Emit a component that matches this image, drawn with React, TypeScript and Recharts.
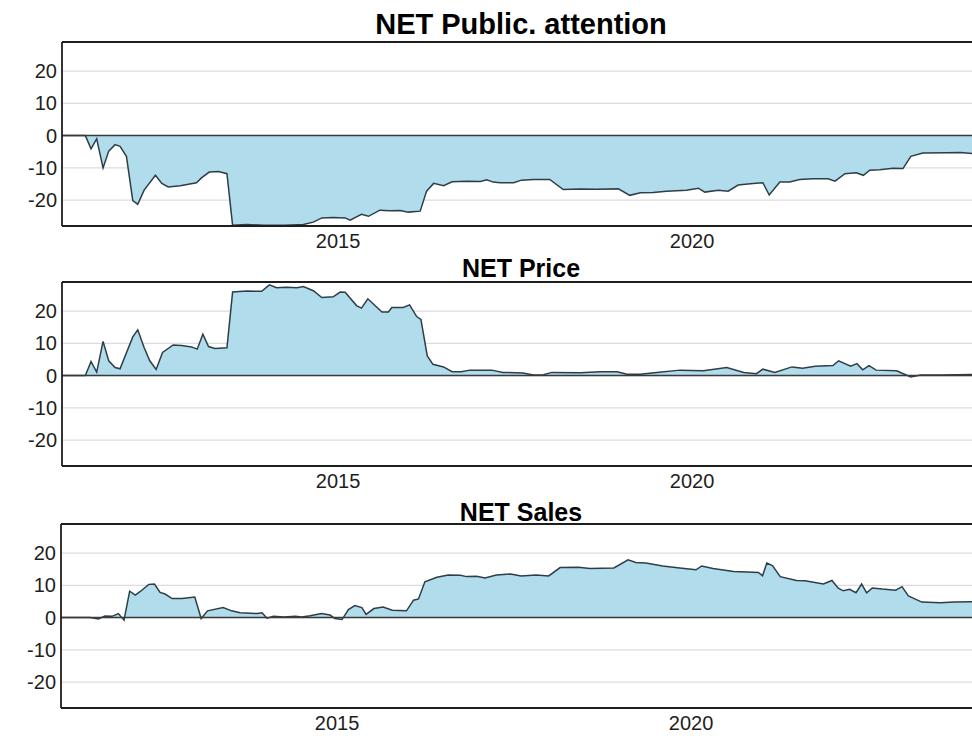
import { Area, AreaChart, CartesianGrid, ReferenceLine, XAxis, YAxis } from "recharts";

const yearTicks = [2015, 2020];
const valueTicks = [-20, -10, 0, 10, 20];

// [decimal year, value]
const attention: [number, number][] = [
  [2011.1, 0], [2011.43, 0], [2011.51, -4.1], [2011.59, -1.0], [2011.68, -10.0], [2011.76, -4.8],
  [2011.85, -2.8], [2011.92, -3.3], [2012.01, -6.4], [2012.1, -20.1], [2012.17, -21.3], [2012.26, -16.9],
  [2012.42, -12.3], [2012.51, -14.8], [2012.6, -15.9], [2012.77, -15.5], [2013.0, -14.6], [2013.07, -13.1],
  [2013.18, -11.3], [2013.31, -11.1], [2013.43, -11.8], [2013.51, -27.8], [2013.71, -27.5], [2013.95, -27.8],
  [2014.25, -27.8], [2014.51, -27.5], [2014.65, -26.8], [2014.77, -25.5], [2014.93, -25.4], [2015.1, -25.5],
  [2015.17, -26.2], [2015.33, -24.4], [2015.43, -25.0], [2015.59, -23.1], [2015.73, -23.3], [2015.88, -23.2],
  [2015.99, -23.7], [2016.16, -23.4], [2016.25, -17.2], [2016.35, -14.8], [2016.49, -15.5], [2016.61, -14.3],
  [2016.82, -14.1], [2017.01, -14.2], [2017.1, -13.7], [2017.19, -14.4], [2017.29, -14.6], [2017.48, -14.6],
  [2017.59, -13.8], [2017.76, -13.6], [2017.99, -13.6], [2018.18, -16.7], [2018.42, -16.5], [2018.65, -16.6],
  [2018.96, -16.5], [2019.12, -18.5], [2019.27, -17.7], [2019.45, -17.6], [2019.64, -17.2], [2019.92, -16.9],
  [2020.09, -16.3], [2020.18, -17.5], [2020.37, -16.9], [2020.51, -17.2], [2020.65, -15.3], [2020.86, -14.8],
  [2021.0, -14.6], [2021.09, -18.4], [2021.24, -14.4], [2021.38, -14.4], [2021.52, -13.6], [2021.71, -13.4],
  [2021.92, -13.4], [2022.02, -14.1], [2022.16, -11.8], [2022.32, -11.5], [2022.42, -12.3], [2022.51, -10.7],
  [2022.65, -10.6], [2022.84, -10.1], [2022.98, -10.2], [2023.09, -6.4], [2023.26, -5.4], [2023.6, -5.3],
  [2023.79, -5.2], [2024.0, -5.6],
];

const price: [number, number][] = [
  [2011.1, 0], [2011.43, 0], [2011.51, 4.4], [2011.59, 1.1], [2011.68, 10.6], [2011.76, 4.6],
  [2011.85, 2.5], [2011.92, 2.1], [2012.1, 12.0], [2012.17, 14.2], [2012.26, 8.7], [2012.34, 4.6],
  [2012.43, 1.9], [2012.52, 7.2], [2012.67, 9.5], [2012.79, 9.3], [2012.93, 8.9], [2013.01, 8.2],
  [2013.09, 12.8], [2013.17, 9.0], [2013.26, 8.4], [2013.43, 8.6], [2013.51, 25.9], [2013.71, 26.2],
  [2013.92, 26.1], [2014.03, 28.1], [2014.13, 27.2], [2014.27, 27.4], [2014.42, 27.2], [2014.51, 27.6],
  [2014.65, 26.3], [2014.77, 24.2], [2014.93, 24.4], [2015.03, 25.9], [2015.1, 25.8], [2015.26, 21.7],
  [2015.33, 20.9], [2015.42, 23.8], [2015.62, 19.7], [2015.71, 19.7], [2015.76, 21.1], [2015.92, 21.1],
  [2016.01, 21.9], [2016.11, 18.3], [2016.17, 17.4], [2016.26, 6.1], [2016.34, 3.5], [2016.49, 2.7],
  [2016.61, 1.2], [2016.74, 1.2], [2016.86, 1.7], [2017.17, 1.7], [2017.33, 1.0], [2017.61, 0.8],
  [2017.76, 0.2], [2017.9, 0.3], [2018.02, 1.0], [2018.42, 0.9], [2018.7, 1.2], [2018.94, 1.2],
  [2019.08, 0.4], [2019.27, 0.4], [2019.5, 1.0], [2019.83, 1.7], [2020.16, 1.5], [2020.49, 2.5],
  [2020.73, 1.0], [2020.91, 0.6], [2021.0, 2.0], [2021.17, 1.0], [2021.41, 2.7], [2021.56, 2.3],
  [2021.74, 2.9], [2021.99, 3.1], [2022.07, 4.6], [2022.24, 2.9], [2022.33, 3.7], [2022.41, 1.8],
  [2022.5, 3.1], [2022.6, 1.7], [2022.89, 1.5], [2022.96, 0.8], [2023.09, -0.4], [2023.23, 0.2],
  [2023.52, 0.2], [2024.0, 0.4],
];

const sales: [number, number][] = [
  [2011.1, 0], [2011.51, 0], [2011.63, -0.4], [2011.72, 0.5], [2011.82, 0.4], [2011.91, 1.25],
  [2011.99, -0.8], [2012.07, 8.2], [2012.15, 7.0], [2012.22, 8.1], [2012.34, 10.3], [2012.42, 10.4],
  [2012.5, 7.8], [2012.57, 7.3], [2012.67, 5.9], [2012.81, 5.9], [2012.99, 6.4], [2013.08, -0.3],
  [2013.17, 2.1], [2013.39, 3.1], [2013.51, 2.1], [2013.63, 1.5], [2013.87, 1.25], [2013.94, 1.5],
  [2014.01, -0.2], [2014.1, 0.4], [2014.25, 0.2], [2014.41, 0.4], [2014.5, 0.2], [2014.62, 0.6],
  [2014.78, 1.25], [2014.9, 0.8], [2014.97, -0.3], [2015.07, -0.6], [2015.16, 2.5], [2015.25, 3.75],
  [2015.35, 3.1], [2015.41, 1.0], [2015.52, 2.8], [2015.65, 3.3], [2015.78, 2.3], [2015.98, 2.1],
  [2016.08, 5.4], [2016.15, 5.8], [2016.24, 11.1], [2016.41, 12.5], [2016.57, 13.2], [2016.74, 13.1],
  [2016.83, 12.7], [2016.97, 12.8], [2017.09, 12.3], [2017.25, 13.2], [2017.45, 13.5], [2017.6, 12.9],
  [2017.81, 13.2], [2017.99, 12.9], [2018.15, 15.5], [2018.41, 15.6], [2018.57, 15.2], [2018.91, 15.4],
  [2019.11, 17.9], [2019.22, 17.1], [2019.36, 16.9], [2019.6, 16.0], [2019.84, 15.4], [2020.07, 14.8],
  [2020.15, 16.0], [2020.31, 15.2], [2020.6, 14.3], [2020.79, 14.1], [2020.95, 14.0], [2021.01, 13.0],
  [2021.07, 16.9], [2021.15, 16.1], [2021.26, 12.7], [2021.49, 11.5], [2021.61, 11.4], [2021.87, 10.4],
  [2021.99, 11.5], [2022.08, 9.1], [2022.15, 8.3], [2022.24, 8.75], [2022.33, 7.7], [2022.41, 10.4],
  [2022.48, 7.7], [2022.56, 9.2], [2022.7, 8.85], [2022.89, 8.5], [2022.98, 9.6], [2023.07, 6.7],
  [2023.26, 4.8], [2023.52, 4.6], [2023.71, 4.8], [2024.0, 4.9],
];

const FONT = "'Liberation Sans', Arial, sans-serif";
const INK = "#1e1e1e";

function Panel(props: {
  title: string;
  points: [number, number][];
  top: number;
  left: number;
  titleSize: number;
  titleTop: number;
}) {
  const { title, points, top, left, titleSize, titleTop } = props;
  const data = points.map(([year, value]) => ({ year, value }));
  return (
    <>
      <div
        style={{
          position: "absolute",
          left: 0,
          width: 1042,
          top: titleTop,
          textAlign: "center",
          fontFamily: FONT,
          fontWeight: "bold",
          fontSize: titleSize,
          lineHeight: 1,
          color: "#000",
        }}
      >
        {title}
      </div>
      <div style={{ position: "absolute", top, left }}>
        <AreaChart width={1000} height={234} data={data} margin={{ top: 10, right: 0, bottom: 0, left: 7 }}>
          <CartesianGrid vertical={false} stroke="#dcdcdc" strokeWidth={1.2} />
          <XAxis
            dataKey="year"
            type="number"
            domain={[2011.1, 2024.35]}
            ticks={yearTicks}
            allowDataOverflow
            height={40}
            tickLine={false}
            tickSize={0}
            tickMargin={8}
            axisLine={{ stroke: INK, strokeWidth: 1.8 }}
            tick={{ fill: INK, fontSize: 20, fontFamily: FONT }}
          />
          <YAxis
            type="number"
            domain={[-28, 29]}
            ticks={valueTicks}
            allowDataOverflow
            width={55}
            tickLine={false}
            tickSize={0}
            tickMargin={5}
            axisLine={{ stroke: INK, strokeWidth: 1.8 }}
            tick={{ fill: INK, fontSize: 20, fontFamily: FONT }}
          />
          <Area
            type="linear"
            dataKey="value"
            baseValue={0}
            stroke="#2e3e48"
            strokeWidth={1.5}
            fill="#b0dcec"
            fillOpacity={1}
            dot={false}
            activeDot={false}
            isAnimationActive={false}
          />
          <ReferenceLine y={0} stroke="#3a3a3a" strokeWidth={1.5} />
          <ReferenceLine y={29} stroke={INK} strokeWidth={1.8} />
        </AreaChart>
      </div>
    </>
  );
}

export default function App() {
  return (
    <div
      style={{
        position: "absolute",
        left: 0,
        top: 0,
        width: 972,
        height: 736,
        overflow: "hidden",
        background: "#fff",
      }}
    >
      <Panel title="NET Public. attention" points={attention} top={32} left={0} titleSize={29} titleTop={10} />
      <Panel title="NET Price" points={price} top={272} left={0} titleSize={25} titleTop={256} />
      <Panel title="NET Sales" points={sales} top={514} left={-1} titleSize={25} titleTop={500} />
    </div>
  );
}
